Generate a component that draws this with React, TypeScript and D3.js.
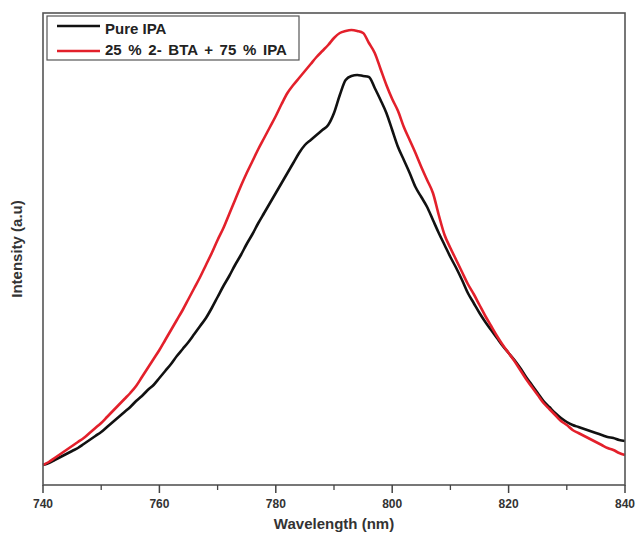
import React from "react";
import * as d3 from "d3";

const wavelengths: number[] = d3.range(740, 841, 1);

const pureIPA: number[] = [
  20, 22, 25, 28, 31, 34, 37, 41, 45, 49,
  53, 58, 63, 68, 73, 78, 84, 89, 95, 100,
  107, 114, 121, 129, 136, 143, 151, 159, 167, 177,
  188, 199, 209, 220, 230, 241, 251, 262, 272, 282,
  292, 302, 312, 322, 332, 340, 345, 350, 355, 360,
  372, 390, 405, 409, 410, 409, 408, 397, 385, 372,
  355, 338, 325, 312, 298, 288, 278, 265, 252, 240,
  228, 217, 205, 192, 182, 172, 163, 155, 147, 139,
  132, 125, 117, 108, 100, 92, 84, 78, 72, 67,
  63, 60, 58, 56, 54, 52, 50, 48, 47, 45,
  44,
];

const btaMix: number[] = [
  20, 23, 27, 31, 35, 39, 43, 47, 52, 57,
  62, 68, 74, 80, 86, 92, 99, 108, 117, 126,
  135, 145, 155, 165, 175, 186, 197, 208, 220, 232,
  245, 257, 271, 285, 299, 312, 324, 336, 347, 358,
  369, 381, 392, 400, 407, 414, 421, 428, 434, 440,
  447, 452, 454, 455, 454, 452, 442, 432, 416, 400,
  386, 374, 358, 345, 332, 318, 305, 292, 270, 250,
  237, 225, 213, 201, 191, 180, 169, 159, 149, 140,
  132, 124, 115, 106, 98, 90, 82, 76, 70, 64,
  60, 55, 52, 49, 46, 43, 40, 37, 35, 32,
  30,
];

const seriesNames: string[] = ["Pure IPA", "25 % 2- BTA + 75 % IPA"];
const seriesColors: string[] = ["#111111", "#e3202b"];
const majorTicks: number[] = [740, 760, 780, 800, 820, 840];
const minorTicks: number[] = [750, 770, 790, 810, 830];

const W = 637;
const H = 535;
const M = { left: 43, right: 625, top: 13, bottom: 485 };
const FONT = "'Liberation Sans', Arial, sans-serif";

export default function App() {
  const x = d3.scaleLinear().domain([740, 840]).range([M.left, M.right]);
  const y = d3.scaleLinear().domain([0, 472]).range([M.bottom, M.top]);
  const line = d3
    .line<number>()
    .x((_, i) => x(wavelengths[i]))
    .y((d) => y(d))
    .curve(d3.curveMonotoneX);

  const series = [pureIPA, btaMix];

  return (
    <svg
      width={W}
      height={H}
      style={{ position: "absolute", left: 0, top: 0, background: "#fff" }}
    >
      <rect x={0} y={0} width={W} height={H} fill="#fff" />
      {series.map((s, i) => (
        <path
          key={i}
          d={line(s) || ""}
          fill="none"
          stroke={seriesColors[i]}
          strokeWidth={2.6}
          strokeLinejoin="round"
        />
      ))}
      <rect
        x={M.left}
        y={M.top}
        width={M.right - M.left}
        height={M.bottom - M.top}
        fill="none"
        stroke="#555"
        strokeWidth={1.6}
      />
      {majorTicks.map((t) => (
        <g key={"M" + t}>
          <line x1={x(t)} x2={x(t)} y1={M.bottom} y2={M.bottom + 8} stroke="#444" strokeWidth={1.5} />
          <text
            x={x(t)}
            y={M.bottom + 23}
            textAnchor="middle"
            fontFamily={FONT}
            fontWeight="bold"
            fontSize={12}
            fill="#333"
          >
            {t}
          </text>
        </g>
      ))}
      {minorTicks.map((t) => (
        <line key={"m" + t} x1={x(t)} x2={x(t)} y1={M.bottom} y2={M.bottom + 5} stroke="#444" strokeWidth={1.3} />
      ))}
      <text
        x={(M.left + M.right) / 2}
        y={529}
        textAnchor="middle"
        fontFamily={FONT}
        fontWeight="bold"
        fontSize={15}
        fill="#333"
      >
        Wavelength (nm)
      </text>
      <text
        transform={`translate(22,${(M.top + M.bottom) / 2}) rotate(-90)`}
        textAnchor="middle"
        fontFamily={FONT}
        fontWeight="bold"
        fontSize={15}
        fill="#333"
      >
        Intensity (a.u)
      </text>
      <rect x={47} y={16} width={252} height={44} fill="#fff" stroke="#555" strokeWidth={1.2} />
      {seriesNames.map((n, i) => (
        <g key={n}>
          <line
            x1={57}
            x2={100}
            y1={26 + i * 25}
            y2={26 + i * 25}
            stroke={seriesColors[i]}
            strokeWidth={2.6}
          />
          <text
            x={105}
            y={34 + i * 21}
            fontFamily={FONT}
            fontWeight="bold"
            fontSize={15}
            wordSpacing={i === 1 ? 2.5 : 0}
            fill="#222"
          >
            {n}
          </text>
        </g>
      ))}
    </svg>
  );
}
